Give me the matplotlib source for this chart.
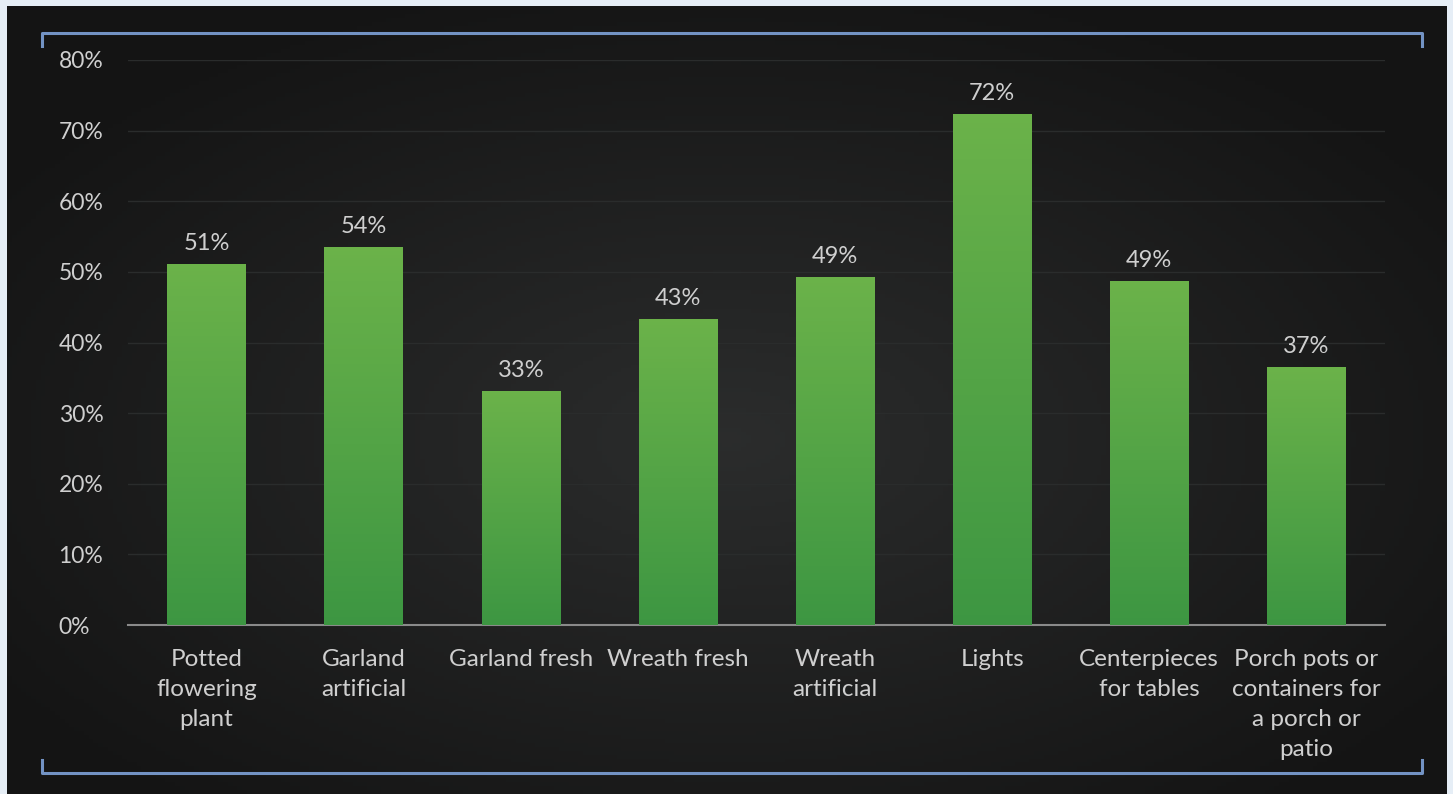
import numpy as np
import matplotlib.pyplot as plt
from matplotlib.patches import Rectangle
from matplotlib.lines import Line2D

plt.rcParams['font.family'] = ['Lato', 'DejaVu Sans']

categories = ['Potted\nflowering\nplant', 'Garland\nartificial', 'Garland fresh',
              'Wreath fresh', 'Wreath\nartificial', 'Lights',
              'Centerpieces\nfor tables', 'Porch pots or\ncontainers for\na porch or\npatio']
shares = [51.1, 53.5, 33.2, 43.3, 49.3, 72.4, 48.7, 36.6]
labels = ['51%', '54%', '33%', '43%', '49%', '72%', '49%', '37%']
yticks = [0, 10, 20, 30, 40, 50, 60, 70, 80]

txt = '#cfcfcf'
W, H = 1453, 794
fig = plt.figure(figsize=(W / 100, H / 100), dpi=100)
fig.patch.set_facecolor('#e6eef6')

# dark panel with a soft radial glow
bg = fig.add_axes([7 / W, 0, (1447 - 7) / W, 1 - 6 / H])
yy, xx = np.mgrid[0:1:200j, 0:1:300j]
r = np.sqrt(((xx - 0.5) / 0.6) ** 2 + ((yy - 0.45) / 0.6) ** 2)
glow = np.clip(1 - r, 0, 1)
base = np.array([0.08, 0.08, 0.08])
top = np.array([0.17, 0.175, 0.175])
img = base + (top - base) * glow[..., None]
bg.imshow(img, aspect='auto', extent=[0, 1, 0, 1], origin='lower')
bg.set_axis_off()

# blue bracket frame
frame = '#7393c4'
fx0, fx1 = 42 / W, 1422 / W
fyt, fyb = 1 - 33 / H, 1 - 773 / H
cap = 13 / H
for xs, ys in [([fx0, fx0, fx1, fx1], [fyt - cap, fyt, fyt, fyt - cap]),
               ([fx0, fx0, fx1, fx1], [fyb + cap, fyb, fyb, fyb + cap])]:
    fig.add_artist(Line2D(xs, ys, color=frame, lw=2.2, transform=fig.transFigure))

ax = fig.add_axes([128 / W, 1 - 625 / H, (1385 - 128) / W, (625 - 60) / H])
ax.set_facecolor('none')
x = np.arange(len(categories))
bars = ax.bar(x, shares, width=0.5, color='#52a845', zorder=2)

# vertical green gradient on each bar
grad = np.linspace(0, 1, 100)[:, None]
c_bot = np.array([0.24, 0.59, 0.26])
c_top = np.array([0.42, 0.70, 0.29])
gimg = c_bot + (c_top - c_bot) * grad[..., None]
for b in bars:
    bx, bw, bh = b.get_x(), b.get_width(), b.get_height()
    im = ax.imshow(gimg, aspect='auto', extent=[bx, bx + bw, 0, bh],
                   origin='lower', zorder=3)
    im.set_clip_path(Rectangle((bx, 0), bw, bh, transform=ax.transData))

for xi, v, lab in zip(x, shares, labels):
    ax.annotate(lab, (xi, v), xytext=(0, 7), textcoords='offset points',
                ha='center', va='bottom', color=txt, fontsize=17)

ax.set_xlim(-0.5, len(categories) - 0.5)
ax.set_ylim(0, 80)
ax.set_yticks(yticks)
ax.set_yticklabels([f'{t}%' for t in yticks], color=txt, fontsize=16.5)
ax.set_xticks(x)
ax.set_xticklabels(categories, color=txt, fontsize=17.5, linespacing=1.53)
ax.tick_params(axis='both', length=0)
ax.tick_params(axis='x', pad=17)
ax.tick_params(axis='y', pad=50)
for lab in ax.get_yticklabels():
    lab.set_horizontalalignment('left')
ax.grid(axis='y', color='#2a2c2c', lw=1, zorder=0)
for s in ['top', 'right', 'left']:
    ax.spines[s].set_visible(False)
ax.spines['bottom'].set_color('#8a8a8a')
ax.spines['bottom'].set_linewidth(1.5)

fig.savefig('out.png', dpi=100, facecolor=fig.get_facecolor())
